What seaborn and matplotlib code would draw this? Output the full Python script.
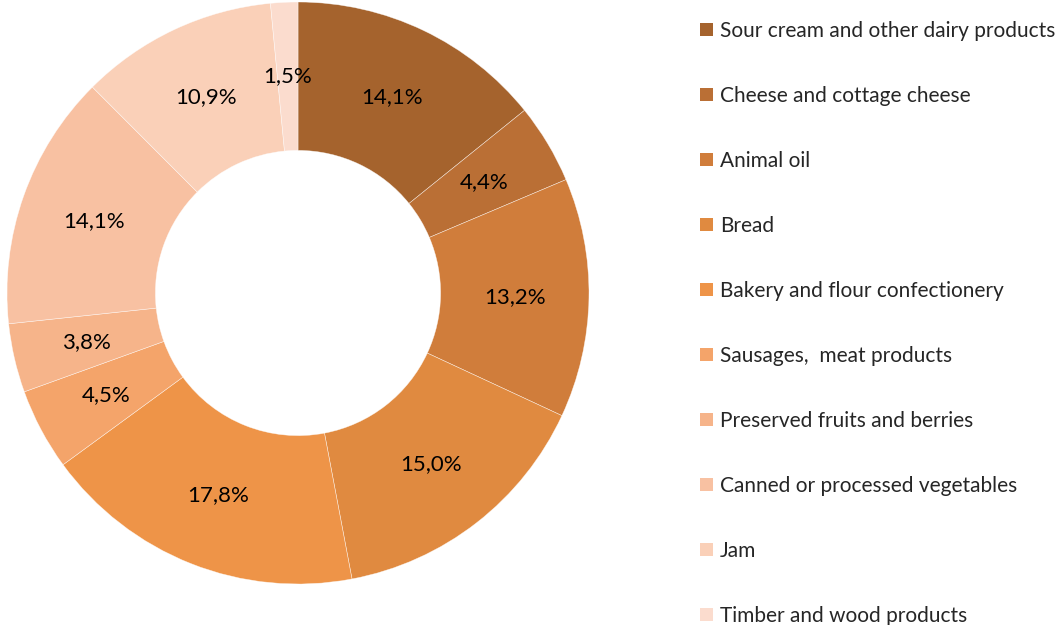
import matplotlib
matplotlib.use('Agg')
import matplotlib.pyplot as plt
import seaborn as sns
from matplotlib.patches import Patch

categories = [
    'Sour cream and other dairy products',
    'Cheese and cottage cheese',
    'Animal oil',
    'Bread',
    'Bakery and flour confectionery',
    'Sausages,  meat products',
    'Preserved fruits and berries',
    'Canned or processed vegetables',
    'Jam',
    'Timber and wood products',
]
shares = [14.1, 4.4, 13.2, 15.0, 17.8, 4.5, 3.8, 14.1, 10.9, 1.5]
colors = ['#A5632D', '#BA6F35', '#D07D3B', '#E08A40', '#EE9448',
          '#F4A46A', '#F6B48A', '#F8C1A2', '#FAD0B8', '#FBDCCE']

sns.set_theme(style='white')
plt.rcParams['font.family'] = ['Lato', 'DejaVu Sans']

fig = plt.figure(figsize=(10.57, 6.25), dpi=100)
W, H = 1057, 625
cx, cy, r = 298, 293, 291
ax = fig.add_axes([(cx - r) / W, (H - cy - r) / H, 2 * r / W, 2 * r / H])

wedges, _, autotexts = ax.pie(
    shares, colors=colors, startangle=90, counterclock=False,
    autopct='%1.1f', pctdistance=0.745, radius=1,
    wedgeprops=dict(width=0.51, edgecolor='#FFFFFFAA', linewidth=0.4),
)
for t, v in zip(autotexts, shares):
    t.set_text(f'{v:.1f}%'.replace('.', ','))
    t.set_fontsize(16)
    t.set_color('black')
ax.set_aspect('equal')
ax.set_xlim(-1, 1)
ax.set_ylim(-1, 1)

handles = [Patch(facecolor=c, edgecolor='none') for c in colors]
fig.legend(handles, categories, loc='upper left',
           bbox_to_anchor=(700 / W, 1 - 21 / H), frameon=False,
           fontsize=15, handlelength=0.6, handleheight=0.6,
           handletextpad=0.35, labelspacing=2.16, borderaxespad=0,
           borderpad=0)

fig.savefig('out.png', dpi=100)
